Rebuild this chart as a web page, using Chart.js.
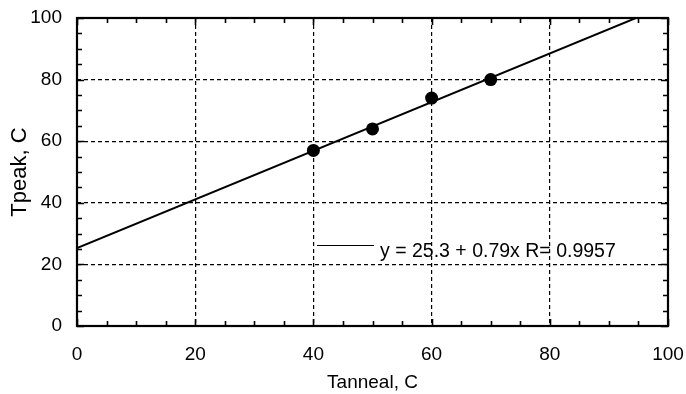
<!DOCTYPE html>
<html>
<head>
<meta charset="utf-8">
<script src="https://cdn.jsdelivr.net/npm/chart.js@4/dist/chart.umd.min.js"></script>
<style>
  html, body { margin: 0; padding: 0; background: #fff; }
  #wrap { width: 686px; height: 394px; }
</style>
</head>
<body>
<div id="wrap"><canvas id="c"></canvas></div>
<script>
// Measured peak temperature against anneal temperature
const tanneal = [40, 50, 60, 70];
const tpeak = [57, 64, 74, 80];

// Least-squares fit reported on the plot
const fitIntercept = 25.3;
const fitSlope = 0.79;
const fitR = 0.9957;

// Axis ranges and tick layout
const xRange = [0, 100];
const yRange = [0, 100];
const majorStep = 20;
const minorStep = 5;

const fitLabel = `y = ${fitIntercept} + ${fitSlope}x R= ${fitR}`;
const fitAt = x => fitIntercept + fitSlope * x;
// Fit line runs from the left edge until it leaves the top of the plot
const fitEndX = Math.min(xRange[1], (yRange[1] - fitIntercept) / fitSlope);
const fitLine = [
  { x: xRange[0], y: fitAt(xRange[0]) },
  { x: fitEndX, y: fitAt(fitEndX) }
];

const FONT = "'Liberation Sans', Arial, Helvetica, sans-serif";

// Inward major/minor ticks on all four sides, the solid frame and the fit key
const framePlugin = {
  id: 'frame',
  afterDraw(chart) {
    const { ctx, chartArea: a, scales: { x, y } } = chart;
    ctx.save();
    ctx.strokeStyle = '#000';
    ctx.lineWidth = 1.6;
    ctx.beginPath();
    for (let v = xRange[0]; v <= xRange[1]; v += minorStep) {
      const len = v % majorStep === 0 ? 7 : 5;
      const px = Math.round(x.getPixelForValue(v)) + 0.5;
      ctx.moveTo(px, a.bottom); ctx.lineTo(px, a.bottom - len);
      ctx.moveTo(px, a.top); ctx.lineTo(px, a.top + len);
    }
    for (let v = yRange[0]; v <= yRange[1]; v += minorStep) {
      const len = v % majorStep === 0 ? 7 : 5;
      const py = Math.round(y.getPixelForValue(v)) + 0.5;
      ctx.moveTo(a.left, py); ctx.lineTo(a.left + len, py);
      ctx.moveTo(a.right, py); ctx.lineTo(a.right - len, py);
    }
    ctx.stroke();
    ctx.lineWidth = 2.2;
    ctx.strokeRect(a.left, a.top, a.right - a.left, a.bottom - a.top);

    // key for the fit line
    const kx = a.left + 240, ky = a.top + 227;
    ctx.lineWidth = 1.2;
    ctx.beginPath();
    ctx.moveTo(kx, ky + 0.5); ctx.lineTo(kx + 57, ky + 0.5);
    ctx.stroke();
    ctx.fillStyle = '#000';
    ctx.font = `19.5px ${FONT}`;
    ctx.textBaseline = 'alphabetic';
    ctx.textAlign = 'left';
    ctx.fillText(fitLabel, kx + 63, ky + 12);
    ctx.restore();
  }
};

new Chart(document.getElementById('c'), {
  type: 'scatter',
  data: {
    datasets: [
      {
        label: fitLabel,
        data: fitLine,
        showLine: true,
        borderColor: '#000',
        borderWidth: 1.9,
        pointRadius: 0,
        clip: 0
      },
      {
        label: 'Tpeak',
        data: tanneal.map((t, i) => ({ x: t, y: tpeak[i] })),
        backgroundColor: '#000',
        borderColor: '#000',
        pointRadius: 6.5,
        borderWidth: 0
      }
    ]
  },
  options: {
    responsive: true,
    maintainAspectRatio: false,
    animation: false,
    events: [],
    layout: { padding: { top: 18, right: 18, left: 0, bottom: 0 } },
    plugins: {
      legend: { display: false },
      tooltip: { enabled: false }
    },
    scales: {
      x: {
        type: 'linear',
        min: xRange[0],
        max: xRange[1],
        afterFit: s => { s.height = 68; },
        ticks: {
          stepSize: majorStep,
          color: '#000',
          padding: 0,
          maxRotation: 0,
          font: { family: FONT, size: 19 }
        },
        // outer tick space only sets the label gap; the visible ticks are drawn inward
        grid: { color: '#000', lineWidth: 1.2, drawTicks: true, tickLength: 17, tickColor: 'rgba(0,0,0,0)' },
        border: { display: false, dash: [4, 3] },
        title: {
          display: true,
          text: 'Tanneal, C',
          color: '#000',
          font: { family: FONT, size: 19 },
          padding: { top: 0, bottom: 0 }
        }
      },
      y: {
        type: 'linear',
        min: yRange[0],
        max: yRange[1],
        afterFit: s => { s.width = 77; },
        ticks: {
          stepSize: majorStep,
          color: '#000',
          padding: 0,
          font: { family: FONT, size: 19 }
        },
        grid: { color: '#000', lineWidth: 1.2, drawTicks: true, tickLength: 15, tickColor: 'rgba(0,0,0,0)' },
        border: { display: false, dash: [4, 3] },
        title: {
          display: true,
          text: 'Tpeak, C',
          color: '#000',
          font: { family: FONT, size: 22 },
          padding: { top: 7, bottom: 0 }
        }
      }
    }
  },
  plugins: [framePlugin]
});
</script>
</body>
</html>
